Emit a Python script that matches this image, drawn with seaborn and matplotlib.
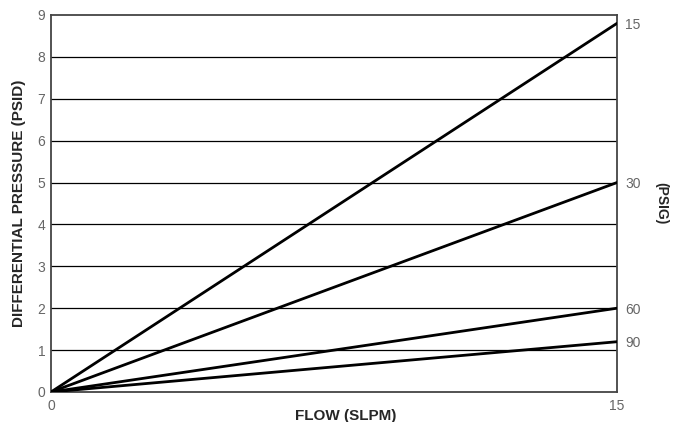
import pandas as pd
from matplotlib import pyplot as plt
import seaborn as sns

# flow range (SLPM) and differential pressure at 15 SLPM for each inlet pressure
flow = [0, 15]
inlet_psig = ['15', '30', '60', '90']
dp_at_max = [8.8, 5.0, 2.0, 1.2]
y_ticks = [0, 1, 2, 3, 4, 5, 6, 7, 8, 9]

rows = []
for label, dp in zip(inlet_psig, dp_at_max):
    rows.append({'flow': flow[0], 'dp': 0.0, 'psig': label})
    rows.append({'flow': flow[1], 'dp': dp, 'psig': label})
data = pd.DataFrame(rows)

sns.set_style('white')
plt.rcParams['font.family'] = ['Liberation Sans', 'DejaVu Sans']

fig = plt.figure(figsize=(6.77, 4.22), dpi=100)
ax = fig.add_axes([0.0753, 0.0711, 0.836, 0.8934])

for y in y_ticks[1:-1]:
    ax.axhline(y, color='black', lw=0.9, zorder=1)

sns.lineplot(data=data, x='flow', y='dp', units='psig', estimator=None,
             color='black', lw=2, ax=ax, zorder=3)

ax.set_xlim(flow[0], flow[1])
ax.set_ylim(0, 9)
ax.set_xticks(flow)
ax.set_yticks(y_ticks)
ax.tick_params(axis='both', colors='#666666', labelsize=10, length=0)
ax.tick_params(axis='x', pad=5)
ax.tick_params(axis='y', pad=4)
for s in ax.spines.values():
    s.set_color('#444444')
    s.set_linewidth(1.3)

ax.set_xlabel('FLOW (SLPM)', fontsize=11, fontweight='bold')
ax.xaxis.set_label_coords(0.52, -0.045)
ax.set_ylabel('DIFFERENTIAL PRESSURE (PSID)', fontsize=11, fontweight='bold', labelpad=8)

ax2 = ax.twinx()
ax2.set_ylim(0, 9)
ax2.set_yticks(dp_at_max)
ax2.set_yticklabels(inlet_psig)
ax2.tick_params(axis='y', colors='#666666', labelsize=10, length=0, pad=6)
ax2.set_ylabel('(PSIG)', fontsize=10, fontweight='bold', rotation=-90, labelpad=20)
for s in ax2.spines.values():
    s.set_visible(False)

fig.savefig('out.png', dpi=100)
